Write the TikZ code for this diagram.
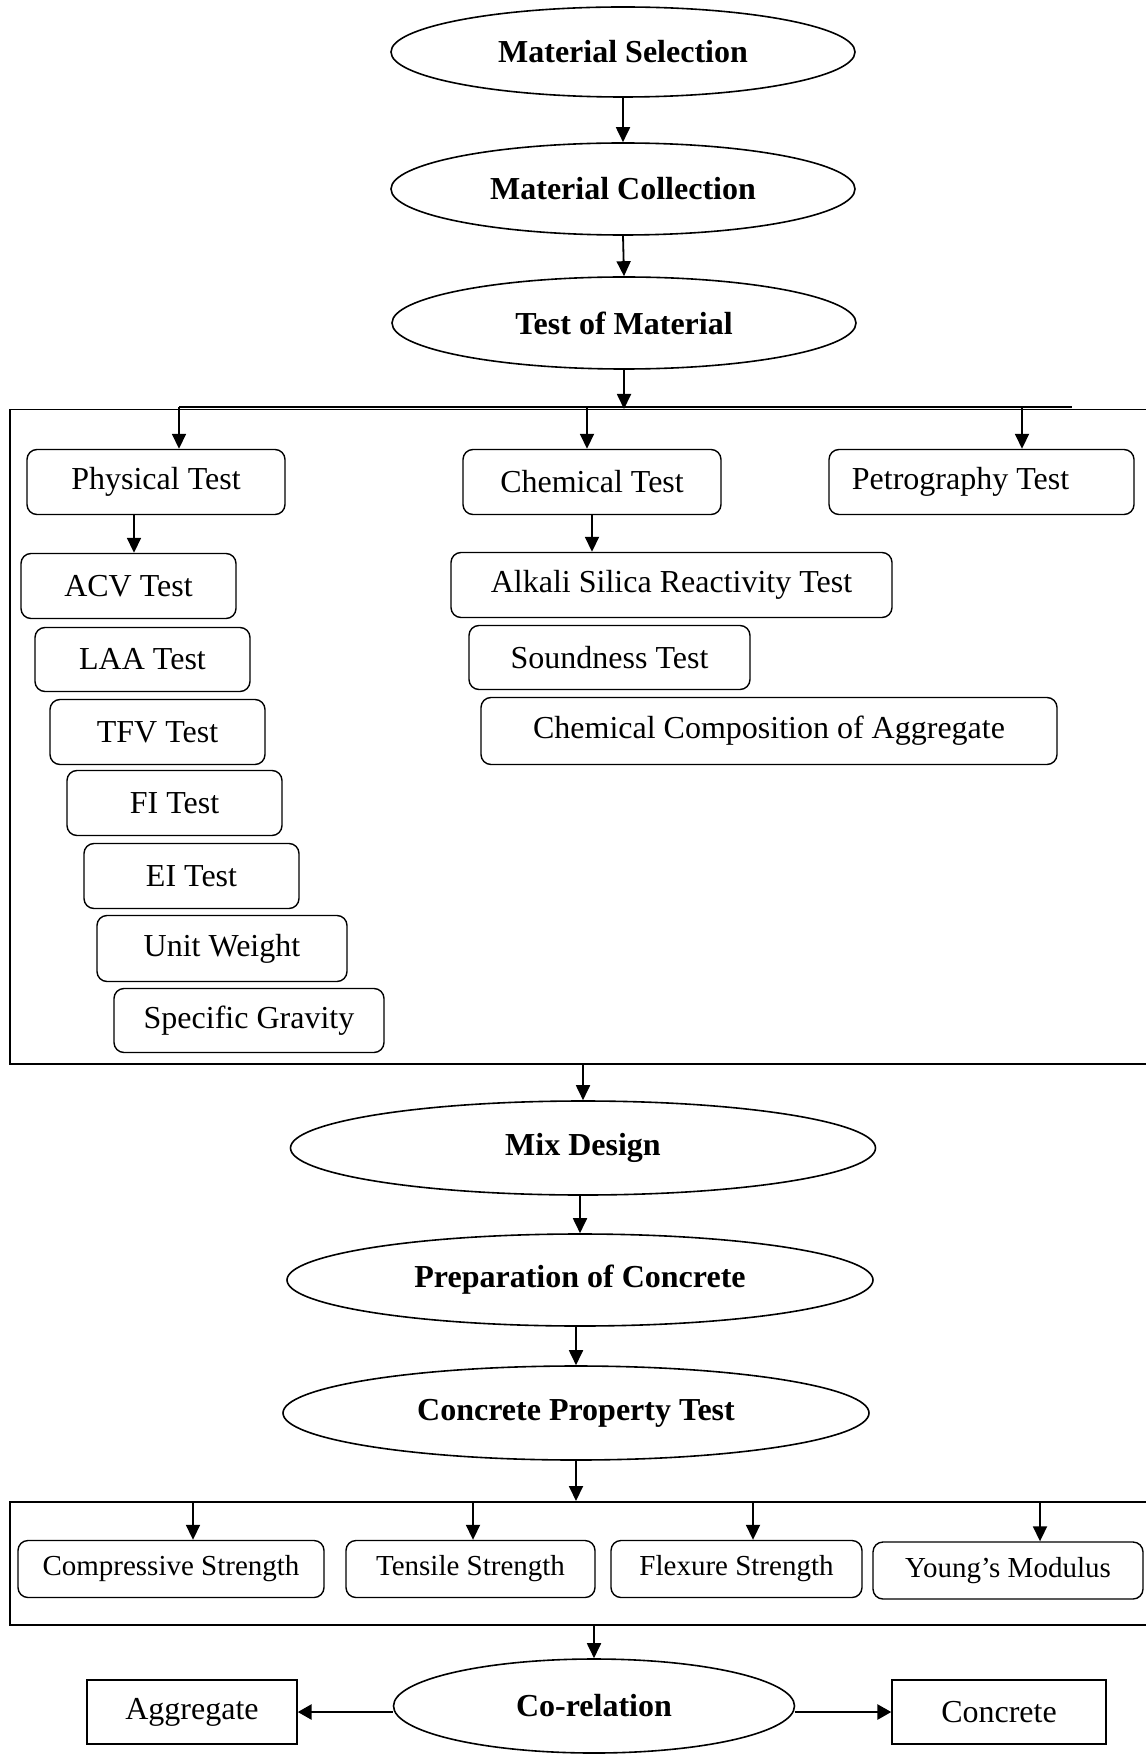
\documentclass[tikz,border=0pt]{standalone}
\usepackage{fontspec}
\setmainfont{Liberation Serif}
\usetikzlibrary{shapes.geometric,arrows.meta}
\begin{document}
\begin{tikzpicture}[x=0.5pt,y=-0.5pt,
  ell/.style={draw,ellipse,line width=0.8pt,inner sep=0pt,font=\fontsize{16}{19}\selectfont\bfseries},
  rbox/.style={draw,rectangle,rounded corners=5pt,line width=0.7pt,inner sep=0pt,font=\fontsize{16}{19}\selectfont},
  lbox/.style={rbox,font=\fontsize{14.5}{17}\selectfont},
  sbox/.style={draw,rectangle,line width=0.7pt,inner sep=0pt,font=\fontsize{16}{19}\selectfont},
  frame/.style={draw,rectangle,line width=0.75pt,inner sep=0pt,anchor=north west},
  arr/.style={-{Triangle[length=7.5pt,width=7pt]},line width=0.9pt},
  sidearr/.style={-{Triangle[length=7pt,width=7.5pt]},line width=1.4pt},
  bar/.style={line width=1.4pt}]
\useasboundingbox (0,0) rectangle (1145,1754);

% top ellipses
\node[ell,minimum width=232pt,minimum height=45pt] (e1) at (623,52) {Material Selection};
\node[ell,minimum width=232pt,minimum height=46pt] (e2) at (623,189) {Material Collection};
\node[ell,minimum width=232pt,minimum height=46pt] (e3) at (624,323) {Test of Material};
\draw[arr] (e1.south) -- (e2.north);
\draw[arr] (e2.south) -- (e3.north);

% frame 1
\node[frame,minimum width=575.5pt,minimum height=327pt] (f1) at (9,409) {};
\draw[arr] (e3.south) -- (e3.south |- f1.north);
\coordinate (b1) at (179,407);
\coordinate (b2) at (587,407);
\coordinate (b3) at (1022,407);
\coordinate (bend) at (1072,407);
\draw[bar] (b1) -- (bend);

\node[rbox,minimum width=129pt,minimum height=32.5pt] (phys) at (156,482) {Physical Test};
\node[rbox,minimum width=129pt,minimum height=32.5pt] (chem) at (592,482) {Chemical Test};
\node[rbox,minimum width=152.5pt,minimum height=32.5pt] (petro) at (981.5,482) {Petrography Test\hspace*{21pt}};
\draw[arr] (b1) -- (b1 |- phys.north);
\draw[arr] (b2) -- (b2 |- chem.north);
\draw[arr] (b3) -- (b3 |- petro.north);

\node[rbox,minimum width=107.5pt,minimum height=32.5pt] (acv) at (128.5,586) {ACV Test};
\node[rbox,minimum width=107.5pt,minimum height=32pt] (laa) at (142.5,659.5) {LAA Test};
\node[rbox,minimum width=107.5pt,minimum height=32.5pt] (tfv) at (157.5,732) {TFV Test};
\node[rbox,minimum width=107.5pt,minimum height=32.5pt] (fi) at (174.5,803) {FI Test};
\node[rbox,minimum width=107.5pt,minimum height=32.5pt] (ei) at (191.5,876) {EI Test};
\node[rbox,minimum width=125pt,minimum height=33pt] (unit) at (222,948.5) {Unit Weight};
\node[rbox,minimum width=135pt,minimum height=32pt] (spec) at (249,1020.5) {Specific Gravity};
\draw[arr] ([xshift=-11pt]phys.south) -- ([xshift=-11pt]phys.south |- acv.north);

\node[rbox,minimum width=220.5pt,minimum height=32.5pt] (asr) at (671.5,585) {Alkali Silica Reactivity Test};
\node[rbox,minimum width=140.5pt,minimum height=32pt] (sound) at (609.5,657.5) {Soundness Test};
\node[rbox,minimum width=288pt,minimum height=33.5pt] (ccomp) at (769,731) {Chemical Composition of Aggregate};
\draw[arr] (chem.south) -- (chem.south |- asr.north);

% middle ellipses
\node[ell,minimum width=292.5pt,minimum height=47pt] (mix) at (583,1148) {Mix Design};
\node[ell,minimum width=293pt,minimum height=46pt] (prep) at (580,1280) {Preparation of Concrete};
\node[ell,minimum width=293pt,minimum height=47pt] (cpt) at (576,1413) {Concrete Property Test};
\draw[arr] (mix.north |- f1.south) -- (mix.north);
\draw[arr] (prep.north |- mix.south) -- (prep.north);
\draw[arr] (cpt.north |- prep.south) -- (cpt.north);

% frame 2
\node[frame,minimum width=575.5pt,minimum height=61.5pt] (f2) at (9,1501) {};
\draw[arr] (cpt.south) -- (cpt.south |- f2.north);
\node[lbox,minimum width=153pt,minimum height=28.5pt] (comp) at (171,1569) {Compressive Strength};
\node[lbox,minimum width=124.5pt,minimum height=28.5pt] (tens) at (470.5,1569) {Tensile Strength};
\node[lbox,minimum width=125.5pt,minimum height=28.5pt] (flex) at (736.5,1569) {Flexure Strength};
\node[lbox,minimum width=135pt,minimum height=28.5pt] (young) at (1008,1570.5) {Young’s Modulus};
\coordinate (t1) at (193,1501);
\coordinate (t2) at (473,1501);
\coordinate (t3) at (753,1501);
\coordinate (t4) at (1040,1501);
\draw[arr] (t1) -- (t1 |- comp.north);
\draw[arr] (t2) -- (t2 |- tens.north);
\draw[arr] (t3) -- (t3 |- flex.north);
\draw[arr] (t4) -- (t4 |- young.north);

% bottom
\node[ell,minimum width=200.5pt,minimum height=47pt] (corel) at (594,1706) {Co-relation};
\node[sbox,minimum width=105pt,minimum height=32pt] (agg) at (192,1712) {Aggregate};
\node[sbox,minimum width=107pt,minimum height=32pt] (conc) at (999,1712) {Concrete};
\draw[arr] (corel.north |- f2.south) -- (corel.north);
\draw[sidearr] (agg.east -| corel.west) -- (agg.east);
\draw[sidearr] (conc.west -| corel.east) -- (conc.west);
\end{tikzpicture}
\end{document}
